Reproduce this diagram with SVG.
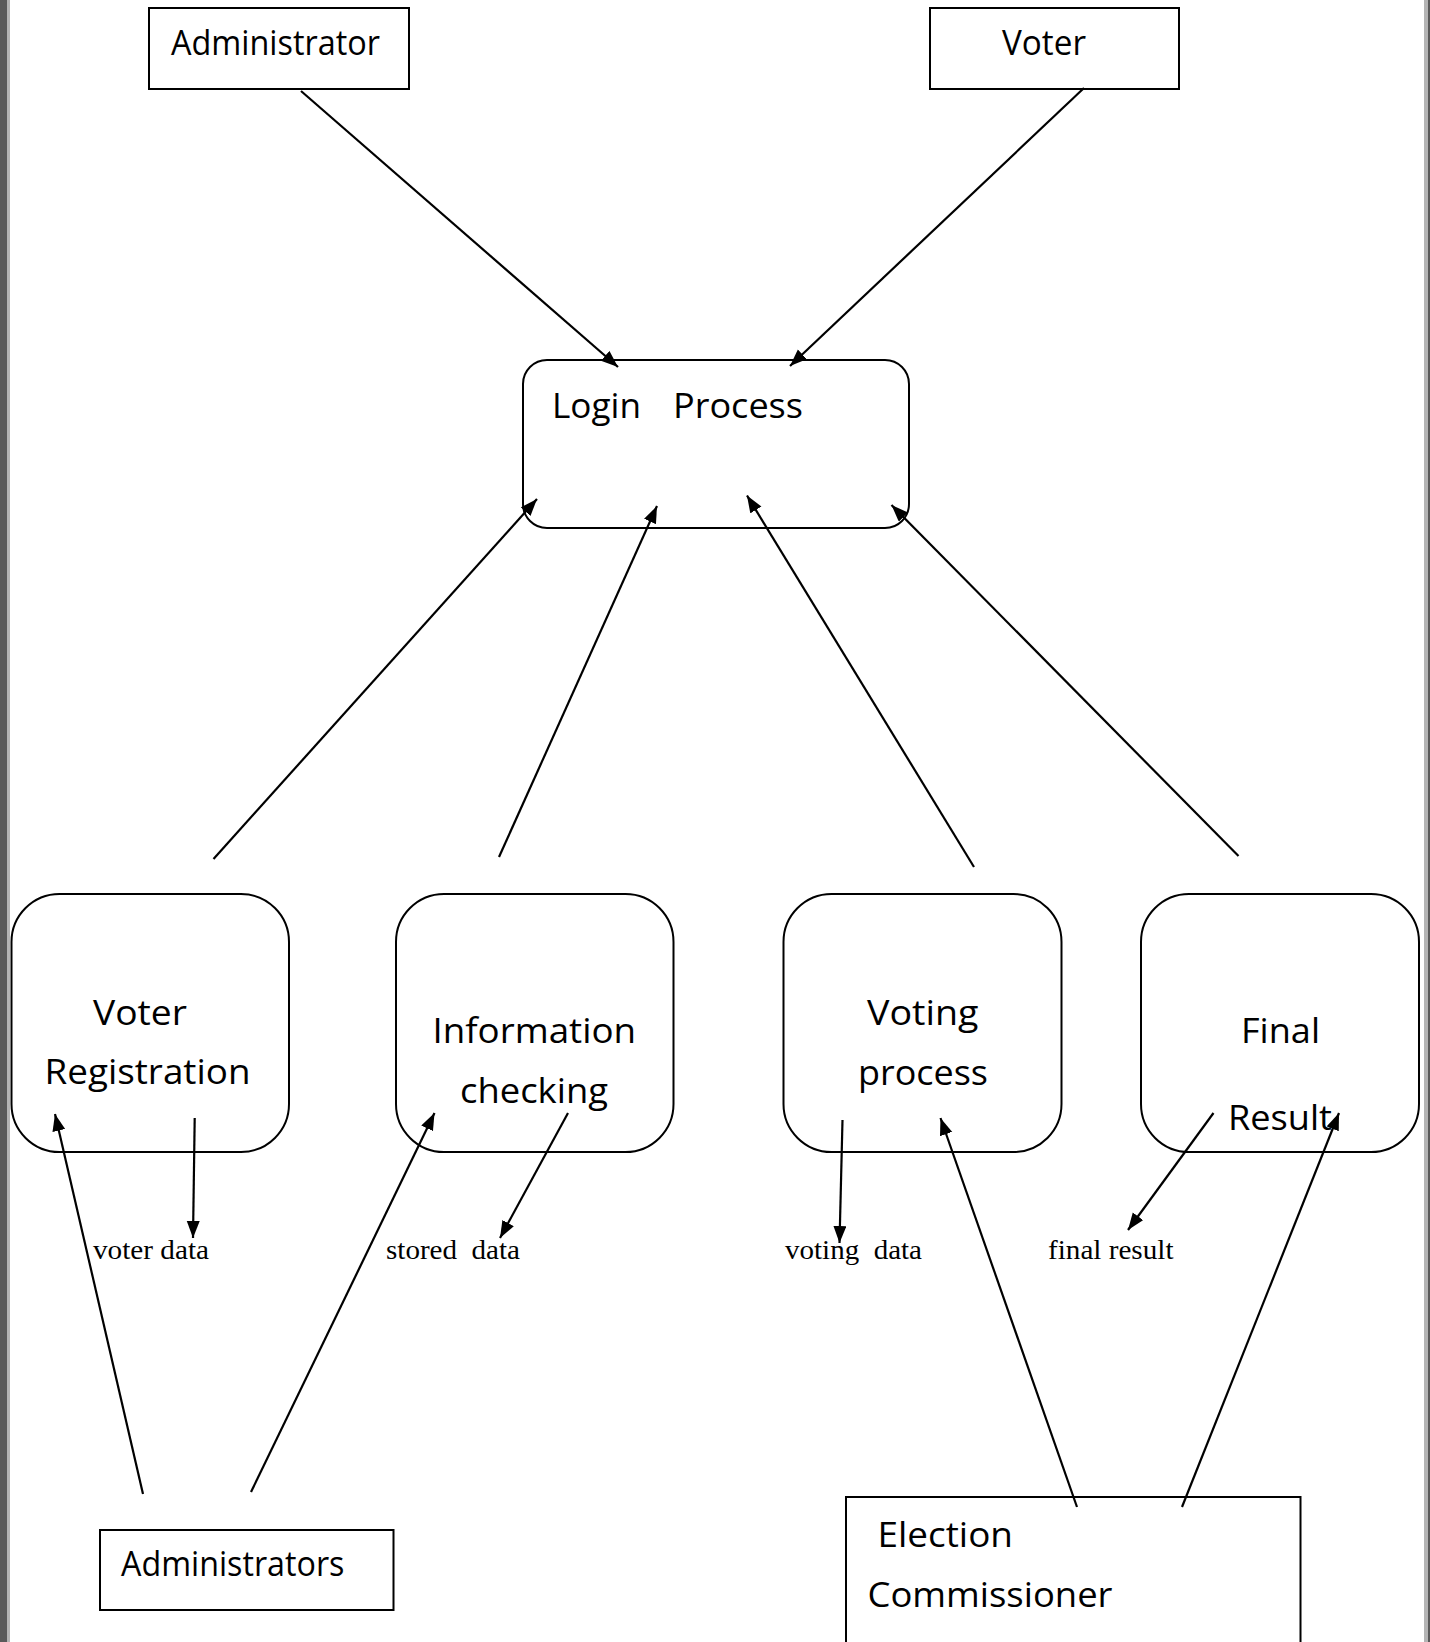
<svg xmlns="http://www.w3.org/2000/svg" width="1430" height="1642" viewBox="0 0 1430 1642">
<style>
.box{fill:#fff;stroke:#000;stroke-width:2}
.proc{fill:#fff;stroke:#000;stroke-width:2}
.t{font-family:"Open Sans","Noto Sans","Liberation Sans",sans-serif;font-size:35px;fill:#000}
.lbl{font-family:"Liberation Serif","Times New Roman",serif;font-size:27px;fill:#000}
.c{stroke:#000;stroke-width:2.2;fill:none;marker-end:url(#ah)}
</style>
<defs>
<marker id="ah" markerUnits="userSpaceOnUse" markerWidth="18" markerHeight="14" refX="17" refY="6.5" orient="auto">
<path d="M0,0 L17,6.5 L0,13 z" fill="#000"/>
</marker>
</defs>
<rect x="0" y="0" width="1430" height="1642" fill="#fff"/>
<rect x="0" y="0" width="7" height="1642" fill="#5a5a5a"/>
<rect x="7" y="0" width="3" height="1642" fill="#b4b4b4"/>
<rect x="1424" y="0" width="4" height="1642" fill="#b4b4b4"/>
<rect x="1428" y="0" width="2" height="1642" fill="#5a5a5a"/>

<g id="administrator">
<rect class="box" x="149" y="8" width="260" height="81"/>
<text class="t" x="171" y="55" textLength="209" lengthAdjust="spacingAndGlyphs">Administrator</text>
</g>
<g id="voter">
<rect class="box" x="930" y="8" width="249" height="81"/>
<text class="t" x="1002" y="55" textLength="84" lengthAdjust="spacingAndGlyphs">Voter</text>
</g>
<g id="login">
<rect class="proc" x="523" y="360" width="386" height="168" rx="24" ry="24"/>
<text class="t" y="418"><tspan x="552" textLength="89" lengthAdjust="spacingAndGlyphs">Login</tspan><tspan x="673" textLength="130" lengthAdjust="spacingAndGlyphs">Process</tspan></text>
</g>
<g id="voter-registration">
<rect class="proc" x="11.5" y="894" width="277.5" height="258" rx="48" ry="48"/>
<text class="t" x="93" y="1025" textLength="94" lengthAdjust="spacingAndGlyphs">Voter</text>
<text class="t" x="44.5" y="1084" textLength="206" lengthAdjust="spacingAndGlyphs">Registration</text>
</g>
<g id="information-checking">
<rect class="proc" x="396" y="894" width="277.5" height="258" rx="48" ry="48"/>
<text class="t" x="432.5" y="1043" textLength="203.5" lengthAdjust="spacingAndGlyphs">Information</text>
<text class="t" x="460" y="1103" textLength="148" lengthAdjust="spacingAndGlyphs">checking</text>
</g>
<g id="voting-process">
<rect class="proc" x="783.5" y="894" width="278" height="258" rx="48" ry="48"/>
<text class="t" x="867" y="1025" textLength="111.5" lengthAdjust="spacingAndGlyphs">Voting</text>
<text class="t" x="858" y="1085" textLength="130" lengthAdjust="spacingAndGlyphs">process</text>
</g>
<g id="final-result">
<rect class="proc" x="1141" y="894" width="278" height="258" rx="48" ry="48"/>
<text class="t" x="1241" y="1043" textLength="79" lengthAdjust="spacingAndGlyphs">Final</text>
<text class="t" x="1228" y="1130" textLength="104" lengthAdjust="spacingAndGlyphs">Result</text>
</g>
<g id="administrators">
<rect class="box" x="100" y="1530" width="293.5" height="80"/>
<text class="t" x="121" y="1576" textLength="223.5" lengthAdjust="spacingAndGlyphs">Administrators</text>
</g>
<g id="election-commissioner">
<rect class="box" x="846" y="1497" width="454.5" height="170"/>
<text class="t" x="877.5" y="1547" textLength="135.5" lengthAdjust="spacingAndGlyphs">Election</text>
<text class="t" x="867.5" y="1607" textLength="245" lengthAdjust="spacingAndGlyphs">Commissioner</text>
</g>

<g id="data-labels">
<text class="lbl" x="93" y="1259" textLength="116" lengthAdjust="spacingAndGlyphs">voter data</text>
<text class="lbl" x="386" y="1259" textLength="134" lengthAdjust="spacingAndGlyphs" xml:space="preserve">stored  data</text>
<text class="lbl" x="785" y="1259" textLength="137" lengthAdjust="spacingAndGlyphs" xml:space="preserve">voting  data</text>
<text class="lbl" x="1048" y="1259" textLength="125.5" lengthAdjust="spacingAndGlyphs">final result</text>
</g>

<g id="connectors">
<line class="c" x1="301" y1="91" x2="618" y2="367"/>
<line class="c" x1="1084" y1="88" x2="790" y2="366"/>
<line class="c" x1="213.5" y1="859" x2="537" y2="499"/>
<line class="c" x1="499" y1="857" x2="657" y2="506"/>
<line class="c" x1="974" y1="867" x2="747" y2="495.5"/>
<line class="c" x1="1238.5" y1="856" x2="891.5" y2="505"/>
<line class="c" x1="194.7" y1="1118" x2="193" y2="1238"/>
<line class="c" x1="143" y1="1494" x2="55" y2="1114"/>
<line class="c" x1="251" y1="1492" x2="434.5" y2="1113"/>
<line class="c" x1="568" y1="1113" x2="500" y2="1238"/>
<line class="c" x1="842.5" y1="1120" x2="839.5" y2="1243"/>
<line class="c" x1="1077" y1="1507" x2="940.5" y2="1118"/>
<line class="c" x1="1213.5" y1="1113" x2="1128" y2="1230"/>
<line class="c" x1="1182" y1="1507" x2="1339" y2="1113"/>
</g>
</svg>
